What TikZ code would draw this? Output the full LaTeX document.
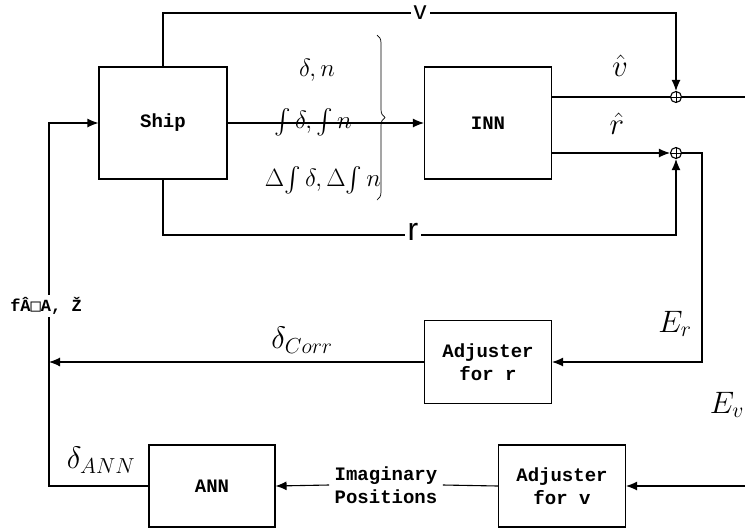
\documentclass[tikz,border=0pt]{standalone}
\usepackage{fix-cm}
\usepackage{amsmath}
\usepackage{fontspec}
\setmonofont{Liberation Mono}
\setsansfont{Liberation Sans}
\newfontfamily\boxsym{DejaVu Sans Mono}
\usetikzlibrary{arrows.meta,calc,decorations.pathreplacing}

\tikzset{
  block/.style={draw, align=center, inner sep=0pt,
    font=\ttfamily\bfseries\fontsize{19}{23}\selectfont},
  sumpt/.style={draw, circle, minimum size=11pt, inner sep=0pt,
    path picture={\draw[line width=0.8pt]
      (path picture bounding box.north) -- (path picture bounding box.south)
      (path picture bounding box.west) -- (path picture bounding box.east);}},
  mlabel/.style={inner sep=1pt, font=\fontsize{25}{27}\selectfont},
  biglabel/.style={inner sep=1pt, font=\fontsize{31}{33}\selectfont},
  gaplabel/.style={fill=white, inner sep=3pt, font=\sffamily\fontsize{26}{28}\selectfont},
}

\begin{document}
\begin{tikzpicture}[x=1pt, y=-1pt, >={Latex[length=11pt,width=9pt]}, line width=1.1pt]
  \useasboundingbox (0,0) rectangle (745,531);

  % blocks
  \node[block, minimum width=128pt, minimum height=112pt] (ship) at (163,123) {Ship};
  \node[block, minimum width=127pt, minimum height=112pt] (inn) at (488,123) {INN};
  \node[block, minimum width=127pt, minimum height=83pt] (adjr) at (488,362)
    {Adjuster\\for r};
  \node[block, minimum width=127pt, minimum height=82pt] (adjv) at (562,486)
    {Adjuster\\for v};
  \node[block, minimum width=126pt, minimum height=82pt] (ann) at (212,486) {ANN};
  \node[sumpt] (sumv) at (676,97) {};
  \node[sumpt] (sumr) at (676,153) {};

  % corner points
  \coordinate (vtop) at (163,13);
  \coordinate (rbot) at (163,235);
  \coordinate (vout) at (745,97);
  \coordinate (ercorner) at (702,153);
  \coordinate (lbus) at (49,486);
  \coordinate (evin) at (745,486);

  % ship outputs
  \draw[->] (ship.north) -- (vtop) -| (sumv.north);
  \draw[->] (ship.south) -- (rbot) -| (sumr.south);
  \draw[->] (ship.east) -- (inn.west);
  \draw (inn.east |- sumv) -- (sumv.west);
  \draw (sumv.east) -- (vout);
  \draw[->] (inn.east |- sumr) -- (sumr.west);

  % correction loops
  \draw[->] (sumr.east) -- (ercorner) |- (adjr.east);
  \draw[->] (adjr.west) -- (adjr.west -| lbus);
  \draw[->] (ann.west) -- (lbus) |- (ship.west);
  \draw[->] (evin) -- (adjv.east);
  \node[font=\ttfamily\bfseries\fontsize{19}{23}\selectfont, align=center,
    inner sep=5pt] (imag) at (386,485) {Imaginary\\Positions};
  \draw (adjv.west) -- (imag.east);
  \draw[->] (imag.west) -- (ann.east);

  % signal labels
  \node[gaplabel] (vlab) at (420,13) {v};
  \node[gaplabel, font=\sffamily\fontsize{32}{34}\selectfont] (rlab) at (413,232) {r};
  \node[fill=white, inner sep=2pt, font=\ttfamily\bfseries\fontsize{17}{20}\selectfont]
    (flab) at (46,306) {fÂ{\boxsym □}A, Ž};
  \node[mlabel] (dn) at (317,70) {$\delta,n$};
  \node[mlabel] (idn) at (313,122) {$\int\delta,\int n$};
  \node[mlabel] (didn) at (323,180) {$\Delta\!\int\delta,\Delta\!\int n$};
  \draw[decorate, decoration={brace, amplitude=8pt}, line width=0.7pt]
    (377,35) -- (377,200);
  \node[biglabel] (vhat) at (620,66) {$\hat{v}$};
  \node[biglabel] (rhat) at (617,124) {$\hat{r}$};
  \node[biglabel] (er) at (675,324) {$E_r$};
  \node[biglabel] (ev) at (727,405) {$E_v$};
  \node[biglabel] (dcorr) at (302,340) {$\delta_{Corr}$};
  \node[biglabel] (dann) at (101,460) {$\delta_{ANN}$};
\end{tikzpicture}
\end{document}
